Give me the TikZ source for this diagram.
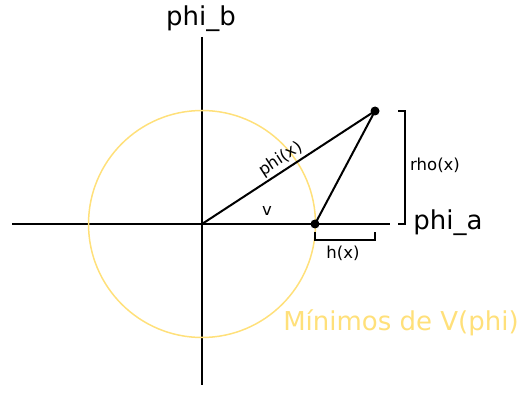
\documentclass[tikz,border=0pt]{standalone}
\usepackage{fontspec}
\setmainfont{DejaVu Sans}
\definecolor{minyel}{HTML}{FFE07A}
\begin{document}
\begin{tikzpicture}[x=1pt,y=-1pt,
  ax/.style={line width=2pt,black},
  ln/.style={line width=2pt,black},
  dotn/.style={circle,fill=black,inner sep=0pt,minimum size=9pt},
  small/.style={font=\fontsize{16.5}{18}\selectfont,inner sep=1pt},
  big/.style={font=\fontsize{26}{30}\selectfont,inner sep=1pt}]
\useasboundingbox (0,0) rectangle (520,417);
\coordinate (O) at (202,224);
\coordinate (yt) at (202,37);
\coordinate (yb) at (202,385);
\coordinate (xl) at (12,224);
\coordinate (xr) at (390,224);
\draw[ax] (yt) -- (yb);
\draw[ax] (xl) -- (xr);
\draw[minyel,line width=1.5pt] (O) circle[radius=113.5];
\node[dotn] (V) at (315,224) {};
\node[dotn] (P) at (375,111) {};
\draw[ln] (O) -- (V.center);
\draw[ln] (O) -- (P.center) node[pos=0.49,sloped,above,small,inner sep=2pt] {phi(x)};
\draw[ln] (V.center) -- (P.center);
\node[small] (vl) at (267,211) {v};
% rho bracket
\coordinate (r1) at (398,111);
\coordinate (r2) at (405,111);
\coordinate (r3) at (405,224);
\coordinate (r4) at (398,224);
\draw[ln] (r1) -- (r2) -- (r3) -- (r4);
\node[small,anchor=west] (rho) at (409,165) {rho(x)};
% h bracket
\coordinate (h1) at (315,232);
\coordinate (h2) at (315,240);
\coordinate (h3) at (375,240);
\coordinate (h4) at (375,232);
\draw[ln] (h1) -- (h2) -- (h3) -- (h4);
\node[small] (hx) at (343,253) {h(x)};
\node[big] (pb) at (201,19) {phi\_b};
\node[big] (pa) at (448,223) {phi\_a};
\node[big,text=minyel] (mn) at (401,323) {Mínimos de V(phi)};
\end{tikzpicture}
\end{document}
